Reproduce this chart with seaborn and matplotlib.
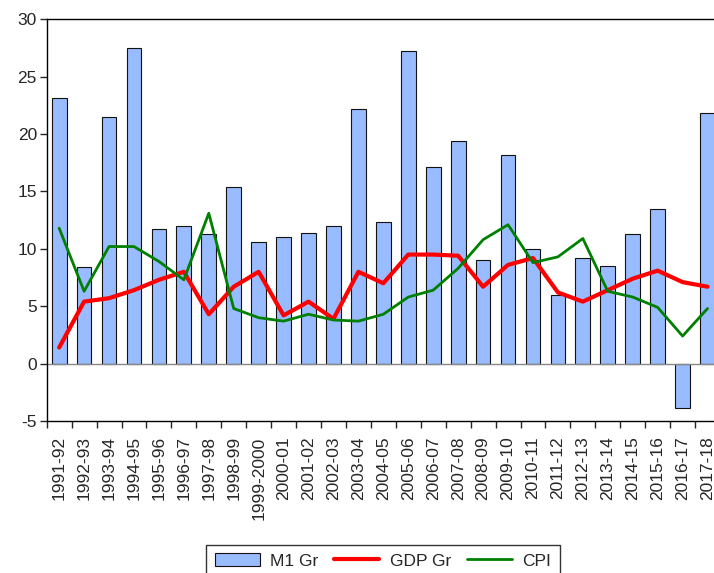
import numpy as np
import pandas as pd
import seaborn as sns
import matplotlib.pyplot as plt
from matplotlib.patches import Patch
from matplotlib.lines import Line2D

# data
years = ['1991-92', '1992-93', '1993-94', '1994-95', '1995-96', '1996-97', '1997-98',
         '1998-99', '1999-2000', '2000-01', '2001-02', '2002-03', '2003-04', '2004-05',
         '2005-06', '2006-07', '2007-08', '2008-09', '2009-10', '2010-11', '2011-12',
         '2012-13', '2013-14', '2014-15', '2015-16', '2016-17', '2017-18']
m1_gr = [23.1, 8.4, 21.5, 27.5, 11.7, 12.0, 11.3, 15.4, 10.6, 11.0, 11.4, 12.0, 22.2,
         12.3, 27.2, 17.1, 19.4, 9.0, 18.2, 10.0, 6.0, 9.2, 8.5, 11.3, 13.5, -3.9, 21.8]
gdp_gr = [1.4, 5.4, 5.7, 6.4, 7.3, 8.0, 4.3, 6.7, 8.0, 4.2, 5.4, 3.9, 8.0,
          7.0, 9.5, 9.5, 9.4, 6.7, 8.6, 9.2, 6.2, 5.4, 6.4, 7.4, 8.1, 7.1, 6.7]
cpi = [11.8, 6.3, 10.2, 10.2, 8.9, 7.3, 13.1, 4.8, 4.0, 3.7, 4.3, 3.8, 3.7,
       4.3, 5.8, 6.4, 8.3, 10.8, 12.1, 8.8, 9.3, 10.9, 6.3, 5.8, 4.9, 2.4, 4.8]

df = pd.DataFrame({'year': years, 'M1 Gr': m1_gr, 'GDP Gr': gdp_gr, 'CPI': cpi})
df['pos'] = np.arange(len(df))

sns.set_style('white')
plt.rcParams['font.family'] = ['Liberation Sans', 'DejaVu Sans']
plt.rcParams['axes.unicode_minus'] = False

fig = plt.figure(figsize=(7.14, 5.73), dpi=100)
ax = fig.add_axes([0.0654, 0.2653, 0.943, 0.701])

bar_col = '#99bbff'
sns.barplot(data=df, x='pos', y='M1 Gr', color=bar_col, edgecolor='#111111',
            linewidth=0.8, width=0.59, native_scale=True, ax=ax, saturation=1)
sns.lineplot(data=df, x='pos', y='GDP Gr', color='#ff0000', linewidth=3, ax=ax)
sns.lineplot(data=df, x='pos', y='CPI', color='#008000', linewidth=2, ax=ax)

ax.axhline(0, color='#888888', linewidth=1, zorder=1)

ax.set_xlim(-0.5, len(df) - 0.5)
ax.set_ylim(-5, 30)
ax.set_yticks(range(-5, 31, 5))
ax.set_xticks(df['pos'])
ax.set_xticklabels(years, rotation=90)
ax.set_xticks(np.arange(len(df) + 1) - 0.5, minor=True)
ax.tick_params(axis='x', which='major', length=0, pad=11, labelsize=12.5)
ax.tick_params(axis='x', which='minor', length=5, width=1, direction='out', bottom=True)
ax.tick_params(axis='y', length=5, width=1, direction='out', left=True, labelsize=12.5, pad=2)
ax.set_xlabel('')
ax.set_ylabel('')
for s in ax.spines.values():
    s.set_color('black')
    s.set_linewidth(1)

handles = [Patch(facecolor=bar_col, edgecolor='#111111', linewidth=0.8),
           Line2D([], [], color='#ff0000', linewidth=3),
           Line2D([], [], color='#008000', linewidth=2)]
fig.legend(handles, ['M1 Gr', 'GDP Gr', 'CPI'], loc='center', ncol=3,
           bbox_to_anchor=(383 / 714, 0.021), frameon=True, fancybox=False,
           edgecolor='black', fontsize=12.5, handlelength=2.6, columnspacing=0.9,
           handletextpad=0.6, borderpad=0.5)

fig.savefig('out.png', dpi=100)
